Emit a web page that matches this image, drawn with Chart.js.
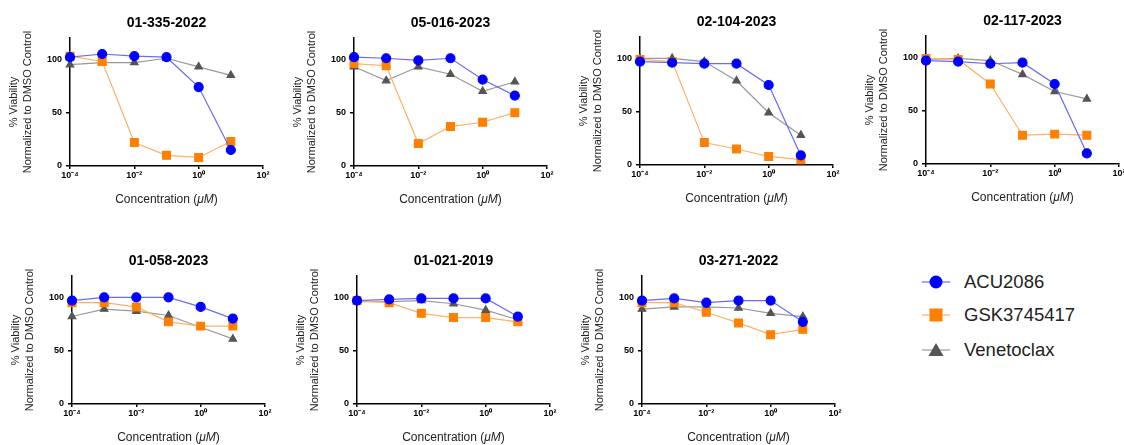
<!DOCTYPE html>
<html>
<head>
<meta charset="utf-8">
<script src="https://cdn.jsdelivr.net/npm/chart.js@4.4.1/dist/chart.umd.min.js"></script>
<style>
  body { margin: 0; width: 1124px; height: 445px; background: #fff; position: relative; overflow: hidden;
         font-family: "Liberation Sans", Arial, sans-serif; }
  .cell { position: absolute; width: 280px; height: 215px; }
  .legend-row { position: absolute; left: 922px; height: 20px; display: flex; align-items: center; }
  .legend-row span { margin-left: 14px; font-size: 18.5px; color: #222; }
</style>
</head>
<body>
<div id="charts"></div>

<div class="legend-row" style="top:272px">
  <svg width="28" height="20"><line x1="0" y1="10" x2="28" y2="10" stroke="#6b6bf2" stroke-width="1.2"/><circle cx="14" cy="10" r="6.5" fill="#0000ff"/></svg>
  <span>ACU2086</span>
</div>
<div class="legend-row" style="top:305px">
  <svg width="28" height="20"><line x1="0" y1="10" x2="28" y2="10" stroke="#ffb066" stroke-width="1.2"/><rect x="7.5" y="3.5" width="13" height="13" fill="#ff8000"/></svg>
  <span>GSK3745417</span>
</div>
<div class="legend-row" style="top:340px">
  <svg width="28" height="20"><line x1="0" y1="10" x2="28" y2="10" stroke="#999" stroke-width="1.2"/><polygon points="14,3 21.5,16 6.5,16" fill="#555"/></svg>
  <span>Venetoclax</span>
</div>

<script>
// concentrations in uM (log axis)
const concentrations = [1e-4, 1e-3, 1e-2, 1e-1, 1, 10];
const xTickValues = [1e-4, 1e-2, 1, 100];
const xTickLabels = ['10⁻⁴', '10⁻²', '10⁰', '10²'];
const yTickValues = [0, 50, 100];

const sampleNames = ['01-335-2022', '05-016-2023', '02-104-2023', '02-117-2023',
                     '01-058-2023', '01-021-2019', '03-271-2022'];

// % viability, one row per sample
const acu2086 = [
  [102, 105, 103, 102, 74, 15],
  [102, 101, 99, 101, 81, 66],
  [97, 96, 95, 95, 75, 9],
  [97, 96, 94, 95, 75, 10],
  [97, 100, 100, 100, 91, 80],
  [97, 98, 99, 99, 99, 82],
  [97, 99, 95, 97, 97, 77]
];
const gsk3745417 = [
  [103, 98, 22, 10, 8, 23],
  [96, 94, 21, 37, 41, 50],
  [99, 97, 21, 15, 8, 5],
  [99, 98, 75, 27, 28, 27],
  [95, 95, 91, 77, 73, 73],
  [97, 95, 85, 81, 81, 77],
  [95, 95, 86, 76, 65, 70]
];
const venetoclax = [
  [95, 97, 97, 101, 93, 85],
  [93, 80, 93, 86, 70, 79],
  [100, 100, 97, 79, 49, 28],
  [98, 99, 97, 84, 68, 61],
  [82, 89, 87, 83, 72, 61],
  [96, 96, 97, 94, 88, 79],
  [89, 91, 91, 90, 85, 82]
];

// where each plot's origin (x = 1e-4, y = 0) sits on the page
const plotOrigins = [[70, 166], [354, 166], [640, 165], [926, 164], [72, 404], [357, 404], [642, 404]];

const FONT = '"Liberation Sans", Arial, sans-serif';

// x axis title with italic unit
const xTitlePlugin = {
  id: 'xTitle',
  afterDraw(chart) {
    const ctx = chart.ctx;
    const area = chart.chartArea;
    const parts = [['Concentration (', 'normal'], ['μM', 'italic'], [')', 'normal']];
    ctx.save();
    ctx.fillStyle = '#222';
    ctx.textBaseline = 'middle';
    let total = 0;
    parts.forEach(p => { ctx.font = p[1] + ' 12px ' + FONT; total += ctx.measureText(p[0]).width; });
    let x = (area.left + area.right) / 2 - total / 2;
    parts.forEach(p => {
      ctx.font = p[1] + ' 12px ' + FONT;
      ctx.textAlign = 'left';
      ctx.fillText(p[0], x, 200);
      x += ctx.measureText(p[0]).width;
    });
    ctx.restore();
  }
};

function toPoints(values) {
  return concentrations.map((c, i) => ({ x: c, y: values[i] }));
}

const container = document.getElementById('charts');

sampleNames.forEach((name, idx) => {
  const div = document.createElement('div');
  div.className = 'cell';
  div.style.left = (plotOrigins[idx][0] - 70) + 'px';
  div.style.top = (plotOrigins[idx][1] - 166) + 'px';
  const canvas = document.createElement('canvas');
  canvas.width = 280;
  canvas.height = 215;
  div.appendChild(canvas);
  container.appendChild(div);

  new Chart(canvas.getContext('2d'), {
    type: 'line',
    data: {
      datasets: [
        { label: 'ACU2086', data: toPoints(acu2086[idx]), borderColor: '#6b6bf2', borderWidth: 1.2,
          pointStyle: 'circle', pointRadius: 4.5, pointBackgroundColor: '#0000ff', pointBorderColor: '#0000ff', clip: false },
        { label: 'GSK3745417', data: toPoints(gsk3745417[idx]), borderColor: '#ffb066', borderWidth: 1.2,
          pointStyle: 'rect', pointRadius: 5.5, pointBackgroundColor: '#ff8000', pointBorderColor: '#ff8000', clip: false },
        { label: 'Venetoclax', data: toPoints(venetoclax[idx]), borderColor: '#999999', borderWidth: 1.2,
          pointStyle: 'triangle', pointRadius: 4.3, pointBackgroundColor: '#555555', pointBorderColor: '#555555', clip: false }
      ]
    },
    options: {
      responsive: false,
      animation: false,
      devicePixelRatio: 1,
      layout: { padding: { left: 0, right: 17, top: 1.2, bottom: 0 } },
      plugins: {
        legend: { display: false },
        tooltip: { enabled: false },
        title: {
          display: true,
          fullSize: false,
          text: name,
          color: '#000',
          font: { family: FONT, size: 14, weight: 'bold' },
          padding: { top: 14, bottom: 6 }
        }
      },
      scales: {
        x: {
          type: 'logarithmic',
          min: 1e-4,
          max: 100,
          afterBuildTicks: scale => { scale.ticks = xTickValues.map(v => ({ value: v })); },
          afterFit: scale => { scale.height = 49; },
          ticks: {
            color: '#000',
            font: { family: FONT, size: 9, weight: 'bold' },
            padding: 1,
            maxRotation: 0,
            autoSkip: false,
            callback: (value) => xTickLabels[xTickValues.indexOf(value)]
          },
          grid: { drawOnChartArea: false, drawTicks: true, tickLength: 3, color: '#000', lineWidth: 1.5 },
          border: { display: true, color: '#000', width: 1.5 }
        },
        y: {
          type: 'linear',
          min: 0,
          max: 120,
          afterBuildTicks: scale => { scale.ticks = yTickValues.map(v => ({ value: v })); },
          afterFit: scale => { scale.width = 70; },
          ticks: {
            color: '#000',
            font: { family: FONT, size: 9, weight: 'bold' },
            padding: 4
          },
          grid: { drawOnChartArea: false, drawTicks: true, tickLength: 4, color: '#000', lineWidth: 1.5 },
          border: { display: true, color: '#000', width: 1.5 },
          title: {
            display: true,
            text: ['% Viability', 'Normalized to DMSO Control'],
            color: '#222',
            font: { family: FONT, size: 11, lineHeight: 1.25 },
            padding: { top: 7, bottom: 0 }
          }
        }
      }
    },
    plugins: [xTitlePlugin]
  });
});
</script>
</body>
</html>
